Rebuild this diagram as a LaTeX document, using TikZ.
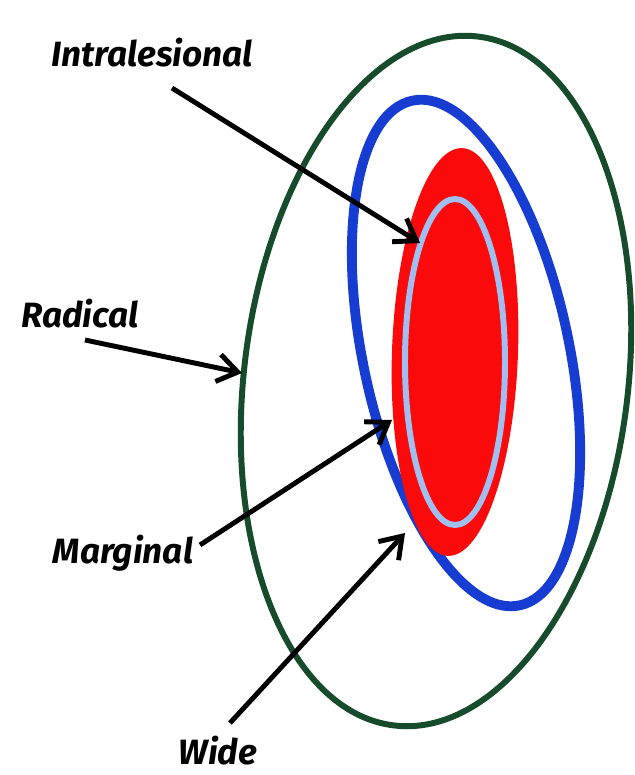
\documentclass[tikz,border=0pt]{standalone}
\usepackage{fontspec}
\setmainfont{Fira Sans}
\usepackage{xcolor}
\usepackage{tikz}
\usetikzlibrary{arrows.meta}

\definecolor{radgreen}{RGB}{22,76,44}
\definecolor{wideblue}{RGB}{22,60,210}
\definecolor{lesionred}{RGB}{250,10,10}
\definecolor{marginblue}{RGB}{160,190,240}

\begin{document}
\begin{tikzpicture}[
  x=0.02cm, y=0.02cm,
  label/.style={font=\fontsize{20}{22}\selectfont\bfseries\itshape, inner sep=0pt},
  pointer/.style={line width=2.8pt, -{Straight Barb[length=0.4cm, width=0.55cm]}},
]
  \useasboundingbox (0,0) rectangle (635,775);

  % Radical margin
  \draw[radgreen, line width=3.4pt, rotate around={-7:(436,394)}]
    (436,394) ellipse [x radius=192, y radius=347];

  % Wide margin
  \draw[wideblue, line width=5.6pt, rotate around={12:(466,422)}]
    (466,422) ellipse [x radius=103, y radius=258];

  % Lesion
  \fill[lesionred, rotate around={-2:(455,423)}]
    (455,423) ellipse [x radius=63, y radius=204];

  % Marginal line
  \draw[marginblue, line width=3.4pt]
    (455,413) ellipse [x radius=50, y radius=163];

  % Labels
  \node[label] (intra) at (152,722) {Intralesional};
  \node[label] (radical) at (80,461) {Radical};
  \node[label] (marginal) at (123,222) {Marginal};
  \node[label] (wide) at (218,24) {Wide};

  % Arrow ends
  \coordinate (intra tail) at (172,687);
  \coordinate (intra tip) at (420,532);
  \coordinate (radical tail) at (85,435);
  \coordinate (radical tip) at (242,402);
  \coordinate (marginal tail) at (200,230);
  \coordinate (marginal tip) at (392,355);
  \coordinate (wide tail) at (230,52);
  \coordinate (wide tip) at (405,242);

  % Arrows
  \draw[pointer] (intra tail) -- (intra tip);
  \draw[pointer] (radical tail) -- (radical tip);
  \draw[pointer] (marginal tail) -- (marginal tip);
  \draw[pointer] (wide tail) -- (wide tip);

\end{tikzpicture}
\end{document}
